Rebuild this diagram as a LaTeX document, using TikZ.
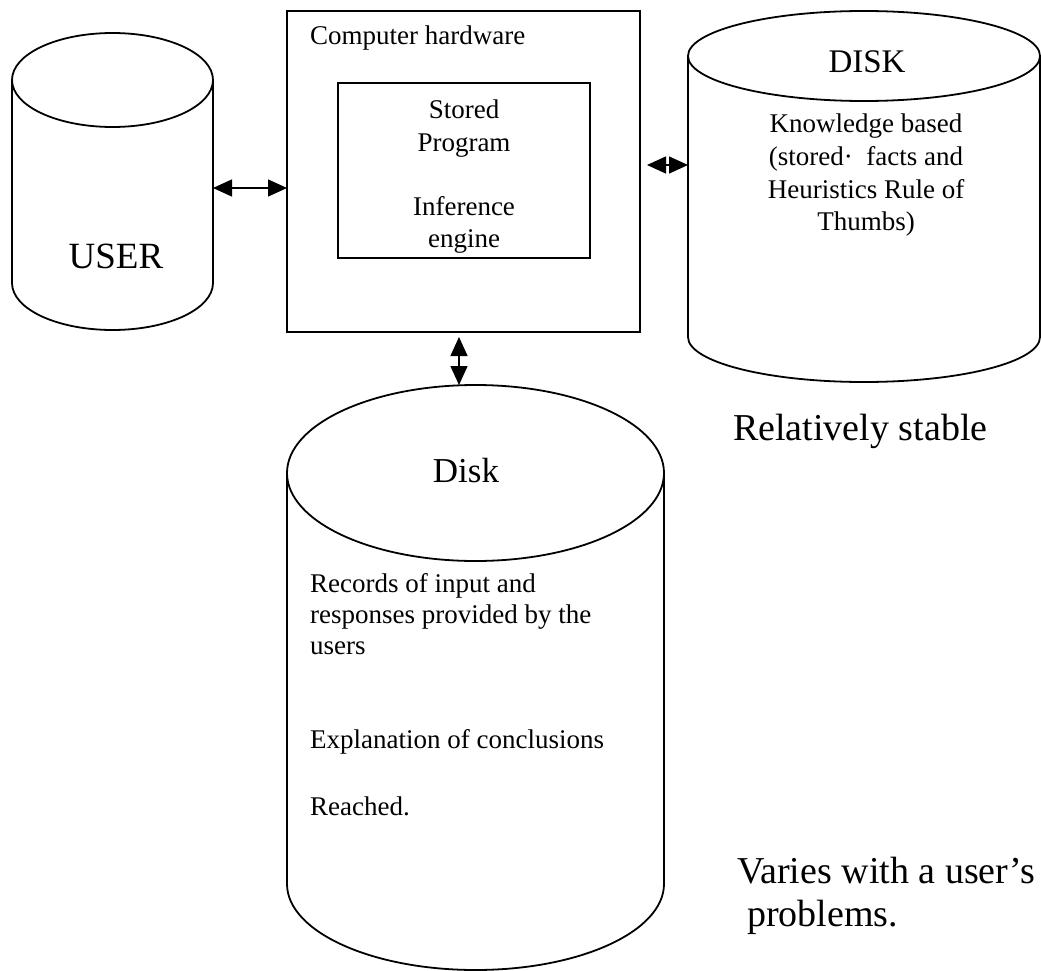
\documentclass[tikz,border=0pt]{standalone}
\usepackage{fontspec}
\setmainfont{Liberation Serif}
\usetikzlibrary{arrows.meta,calc}
\begin{document}
\begin{tikzpicture}[x=1pt,y=-1pt,
  outline/.style={line width=1.8pt},
  box/.style={draw, line width=1.8pt, outer sep=0pt, inner sep=0pt, anchor=north west},
  link/.style={line width=1.4pt, {Triangle[length=19pt,width=17pt]}-{Triangle[length=19pt,width=17pt]}},
  txt/.style={inner sep=0pt, font=\fontsize{27}{32}\selectfont},
  mid/.style={inner sep=0pt, font=\fontsize{33}{38}\selectfont},
  big/.style={inner sep=0pt, font=\fontsize{37}{44}\selectfont},
  note/.style={inner sep=0pt, font=\fontsize{38}{44}\selectfont, anchor=base west}]
\useasboundingbox (0,0) rectangle (1041,971);
\fill[white] (0,0) rectangle (1041,971);

% USER drum
\draw[outline] (12,80) -- (12,283) arc[start angle=180,end angle=0,x radius=100.5,y radius=47] -- (213,80);
\draw[outline] (112.5,80) ellipse [x radius=100.5,y radius=47];
\node[big, anchor=base] (user) at (116,268) {USER};

% computer hardware with the stored program inside
\node[box, minimum width=353pt, minimum height=321pt] (hw) at (287,11) {};
\node[txt, anchor=base west] (hwlbl) at (310,45) {Computer hardware};
\node[box, minimum width=252pt, minimum height=175pt] (prog) at (338,83) {};
\node[txt, anchor=base] (stored) at (464,119) {Stored};
\node[txt, anchor=base] (program) at (464,152) {Program};
\node[txt, anchor=base] (infer) at (464,215) {Inference};
\node[txt, anchor=base] (engine) at (464,247) {engine};

% knowledge base drum
\draw[outline] (688,56) -- (688,337) arc[start angle=180,end angle=0,x radius=176,y radius=45] -- (1040,56);
\draw[outline] (864,56) ellipse [x radius=176,y radius=45];
\node[mid, anchor=base] (disk) at (867,73) {DISK};
\node[txt, anchor=base] (kb1) at (866,133) {Knowledge based};
\node[txt, anchor=base] (kb2) at (866,165) {(stored·\ \ facts and};
\node[txt, anchor=base] (kb3) at (866,198) {Heuristics Rule of};
\node[txt, anchor=base] (kb4) at (866,230) {Thumbs)};

% session records drum
\draw[outline] (287,473) -- (287,884) arc[start angle=180,end angle=0,x radius=188.5,y radius=86] -- (664,473);
\draw[outline] (475.5,473) ellipse [x radius=188.5,y radius=88];
\node[mid, anchor=base, font=\fontsize{35}{40}\selectfont] (disk2) at (466,482) {Disk};
\node[txt, anchor=base west] (rec1) at (310,592) {Records of input and};
\node[txt, anchor=base west] (rec2) at (310,623) {responses provided by the};
\node[txt, anchor=base west] (rec3) at (310,654) {users};
\node[txt, anchor=base west] (rec4) at (310,748) {Explanation of conclusions};
\node[txt, anchor=base west] (rec5) at (310,815) {Reached.};

% side notes
\node[note] (stable) at (733,440) {Relatively stable};
\node[note] (varies) at (737,883) {Varies with a user’s};
\node[note] (probs) at (747,926) {problems.};

% connectors
\coordinate (userR) at (213,188);
\draw[link] (userR) -- (userR -| hw.west);
\coordinate (hwR) at (647,165);
\coordinate (kbL) at (688,165);
\draw[link] (hwR) -- (kbL);
\coordinate (hwB) at (459,337);
\coordinate (dT) at (459,385);
\draw[link] (hwB) -- (dT);
\end{tikzpicture}
\end{document}
